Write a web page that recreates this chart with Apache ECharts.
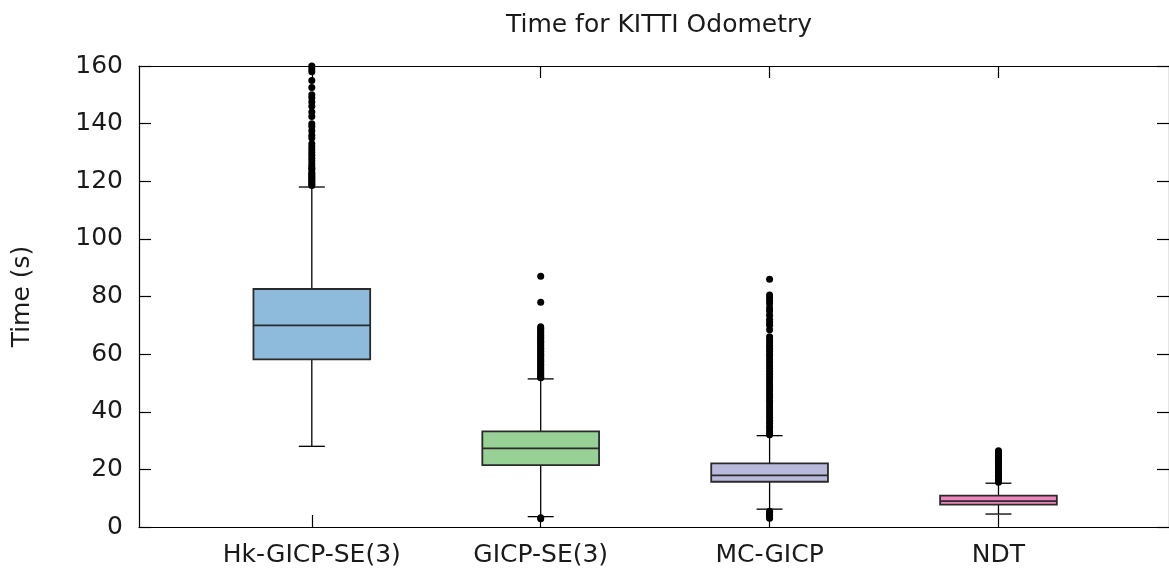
<!DOCTYPE html>
<html lang="en">
<head>
    <meta charset="UTF-8">
    <title>Time for KITTI Odometry</title>
    <style type="text/css">
        html, body { margin: 0; padding: 0; background: #ffffff; }
        #main { width: 1169px; height: 575px; }
    </style>
</head>
<body>
<div id="main"></div>
<script type="text/javascript" src="https://cdn.jsdelivr.net/npm/echarts@6/dist/echarts.min.js"></script>
<script type="text/javascript">
    // methods on the x axis (positions 1..4)
    var methods = ['Hk-GICP-SE(3)', 'GICP-SE(3)', 'MC-GICP', 'NDT'];
    var boxColors = ['#8ebbdb', '#98d196', '#b9b9db', '#ee86bd'];

    // box stats: [min, Q1, median, Q3, max]
    var hkBox   = [28.0, 58.2, 70.0, 82.6, 118.0];
    var gicpBox = [3.6, 21.5, 27.3, 33.2, 51.4];
    var mcBox   = [6.2, 15.7, 17.9, 22.1, 31.7];
    var ndtBox  = [4.5, 7.8, 9.0, 10.9, 15.2];

    // outliers (approximate)
    var hkOut = [160, 159, 158, 155, 152.5, 150, 149, 147.5, 146, 144, 142.5, 140, 139, 137.5,
        136, 135, 133, 132, 131, 130, 129, 128, 127, 126, 125, 124.5, 124, 123, 122.5, 122,
        121.5, 121, 120.5, 120, 119.5, 119, 118.5];
    var gicpOut = [87, 78, 69.5, 69, 68.5, 68, 67.5, 67, 66.5, 66, 65.5, 65, 64.5, 64, 63.5, 63,
        62.5, 62, 61.5, 61, 60.5, 60, 59.5, 59, 58.5, 58, 57.5, 57, 56.5, 56, 55.5, 55, 54.5, 54,
        53.5, 53, 52.5, 52, 51.8, 3.2, 2.9];
    var mcOut = [86, 80.5, 79.5, 78.5, 77.5, 76, 75, 73.5, 72, 71, 70, 68.5, 66, 65, 64, 63, 62,
        61, 60, 59, 58, 57, 56, 55, 54, 53, 52, 51, 50, 49, 48, 47, 46, 45, 44, 43, 42, 41, 40,
        39, 38, 37, 36, 35, 34, 33, 32, 5.5, 5, 4.5, 4, 3.5, 3];
    var ndtOut = [26.5, 26, 25.5, 25, 24.5, 24, 23.5, 23, 22.5, 22, 21.5, 21, 20.5, 20, 19.5, 19,
        18.5, 18, 17.5, 17, 16.5, 16, 15.5];

    var yTicks = [0, 20, 40, 60, 80, 100, 120, 140, 160];

    var boxes = [hkBox, gicpBox, mcBox, ndtBox];
    var outs = [hkOut, gicpOut, mcOut, ndtOut];

    var boxData = boxes.map(function (b, i) { return [i + 1].concat(b); });
    var outData = [];
    outs.forEach(function (arr, i) {
        arr.forEach(function (v) { outData.push([i + 1, v]); });
    });

    var font = 'DejaVu Sans';
    var txt = '#1a1a1a';

    function renderBox(params, api) {
        var x = api.value(0);
        var pMin = api.coord([x, api.value(1)]);
        var pQ1 = api.coord([x, api.value(2)]);
        var pMed = api.coord([x, api.value(3)]);
        var pQ3 = api.coord([x, api.value(4)]);
        var pMax = api.coord([x, api.value(5)]);
        var half = api.size([0.51, 0])[0] / 2;
        var cap = 13;
        var cx = pMed[0];
        var lineStyle = { stroke: '#000', lineWidth: 1.3 };
        var boxLine = { stroke: '#2a2a2a', lineWidth: 1.8 };
        return {
            type: 'group',
            children: [
                { type: 'line', shape: { x1: cx, y1: pMin[1], x2: cx, y2: pQ1[1] }, style: lineStyle },
                { type: 'line', shape: { x1: cx, y1: pQ3[1], x2: cx, y2: pMax[1] }, style: lineStyle },
                { type: 'line', shape: { x1: cx - cap, y1: pMin[1], x2: cx + cap, y2: pMin[1] }, style: lineStyle },
                { type: 'line', shape: { x1: cx - cap, y1: pMax[1], x2: cx + cap, y2: pMax[1] }, style: lineStyle },
                {
                    type: 'rect',
                    shape: { x: cx - half, y: pQ3[1], width: half * 2, height: pQ1[1] - pQ3[1] },
                    style: { fill: boxColors[params.dataIndex], stroke: '#2a2a2a', lineWidth: 1.8 }
                },
                { type: 'line', shape: { x1: cx - half, y1: pMed[1], x2: cx + half, y2: pMed[1] }, style: boxLine }
            ]
        };
    }

    var xCommon = {
        type: 'value',
        min: 0.245,
        max: 4.745,
        splitLine: { show: false },
        axisLine: { show: true, onZero: false, lineStyle: { color: '#000', width: 1.2 } },
        axisTick: { show: true, inside: true, length: 12, customValues: [1, 2, 3, 4], lineStyle: { color: '#000', width: 1.2 } }
    };
    var yCommon = {
        type: 'value',
        min: 0,
        max: 160,
        interval: 20,
        splitLine: { show: false },
        axisLine: { show: true, onZero: false, lineStyle: { color: '#000', width: 1.2 } },
        axisTick: { show: true, inside: true, length: 12, lineStyle: { color: '#000', width: 1.2 } }
    };

    var myChart = echarts.init(document.getElementById('main'), null, { renderer: 'canvas' });
    var option = {
        animation: false,
        backgroundColor: '#ffffff',
        textStyle: { fontFamily: font },
        title: {
            text: 'Time for KITTI Odometry',
            left: 654,
            top: 8,
            textAlign: 'center',
            textStyle: { fontFamily: font, fontSize: 25, fontWeight: 'normal', color: txt }
        },
        grid: { left: 139, top: 66, width: 1031, height: 461, containLabel: false },
        xAxis: [
            Object.assign({}, xCommon, {
                position: 'bottom',
                axisLabel: {
                    show: true,
                    customValues: [1, 2, 3, 4],
                    margin: 16,
                    fontFamily: font,
                    fontSize: 25,
                    color: txt,
                    formatter: function (v) { return methods[Math.round(v) - 1]; }
                }
            }),
            Object.assign({}, xCommon, { position: 'top', axisLabel: { show: false } })
        ],
        yAxis: [
            Object.assign({}, yCommon, {
                position: 'left',
                name: 'Time (s)',
                nameLocation: 'middle',
                nameGap: 104,
                nameRotate: 90,
                nameTextStyle: { fontFamily: font, fontSize: 25, color: txt },
                axisLabel: {
                    show: true,
                    margin: 16,
                    fontFamily: font,
                    fontSize: 25,
                    color: txt,
                    formatter: function (v) { return yTicks.indexOf(v) >= 0 ? String(v) : ''; }
                }
            }),
            Object.assign({}, yCommon, { position: 'right', axisLabel: { show: false } })
        ],
        series: [
            {
                type: 'custom',
                name: 'box',
                xAxisIndex: 0,
                yAxisIndex: 0,
                renderItem: renderBox,
                encode: { x: 0, y: [1, 2, 3, 4, 5] },
                data: boxData,
                z: 2
            },
            {
                type: 'scatter',
                name: 'outliers',
                xAxisIndex: 0,
                yAxisIndex: 0,
                symbol: 'circle',
                symbolSize: 7,
                itemStyle: { color: '#000', opacity: 1 },
                data: outData,
                z: 3
            }
        ]
    };
    myChart.setOption(option);
</script>
</body>
</html>
